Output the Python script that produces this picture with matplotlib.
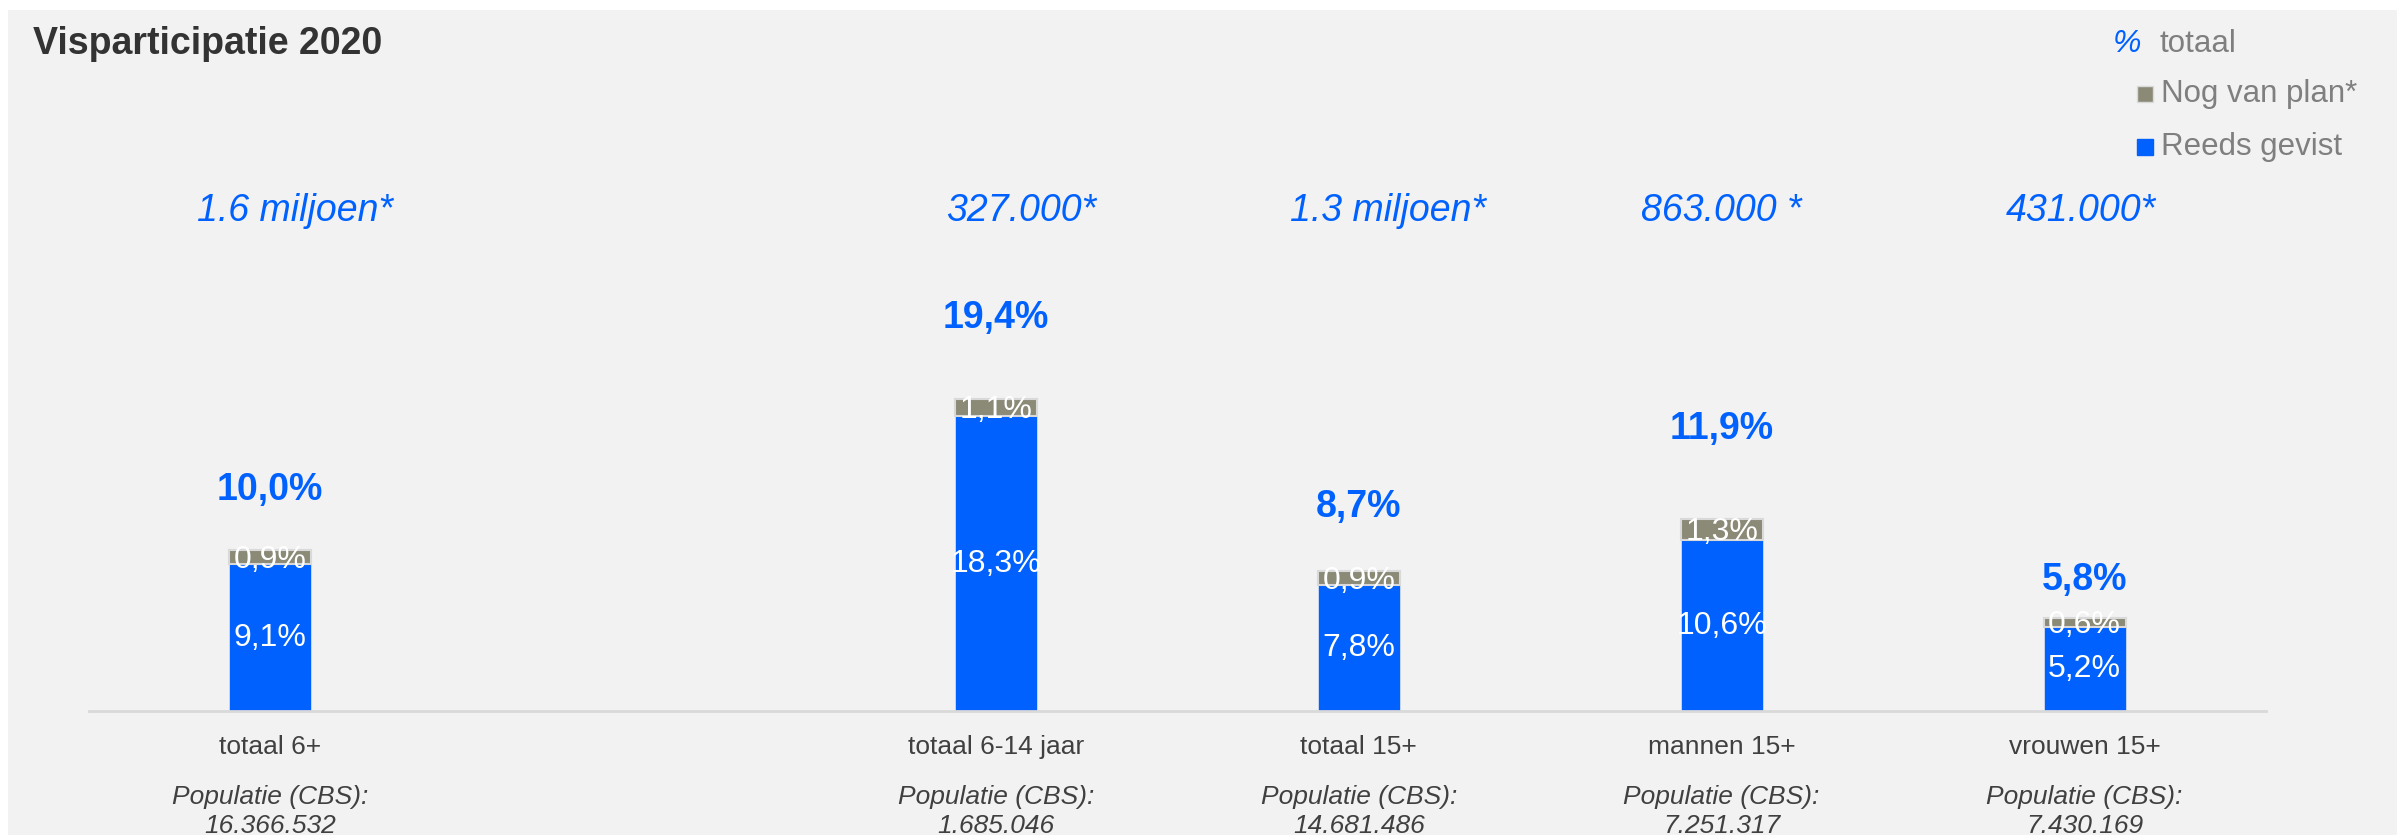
import matplotlib.pyplot as plt
from matplotlib.patches import Rectangle

plt.rcParams['font.family'] = ['Liberation Sans', 'DejaVu Sans']

# data
categories = ['totaal 6+', 'totaal 6-14 jaar', 'totaal 15+', 'mannen 15+', 'vrouwen 15+']
gevist = [9.1, 18.3, 7.8, 10.6, 5.2]
van_plan = [0.9, 1.1, 0.9, 1.3, 0.6]
totaal = [10.0, 19.4, 8.7, 11.9, 5.8]
schatting = ['1.6 miljoen*', '327.000*', '1.3 miljoen*', '863.000 *', '431.000*']
populatie = ['16.366.532', '1.685.046', '14.681.486', '7.251.317', '7.430.169']

def nl(v):
    return f'{v:.1f}'.replace('.', ',') + '%'

# layout (slot 1 stays empty)
slots = [0, 2, 3, 4, 5]
total_label_y = [13.7, 24.4, 12.7, 17.5, 8.15]
schatting_dx = [0.07, 0.07, 0.08, 0.0, -0.01]

blue = '#0061FE'
grey = '#8B8A77'

fig = plt.figure(figsize=(23.97, 8.35), dpi=100)
fig.patches.append(Rectangle((8 / 2397, 0), 1, 825 / 835, transform=fig.transFigure,
                             facecolor='#F2F2F2', edgecolor='none', zorder=-10))

ax = fig.add_axes([88.5 / 2397, 124 / 835, 2177.5 / 2397, 644 / 835])
ax.set_facecolor('none')
ax.set_xlim(-0.5, 5.5)
ax.set_ylim(0, 40)
for s in ['top', 'right', 'left']:
    ax.spines[s].set_visible(False)
ax.spines['bottom'].set_color('#D9D9D9')
ax.spines['bottom'].set_linewidth(2)
ax.set_xticks([])
ax.set_yticks([])

ax.bar(slots, gevist, width=0.226, color=blue, edgecolor='#D0DCF0', linewidth=0.6)
ax.bar(slots, van_plan, width=0.226, bottom=gevist, color=grey, edgecolor='#D9D9D9', linewidth=1.5)

trans = ax.get_xaxis_transform()
for i, x in enumerate(slots):
    ax.text(x, gevist[i] / 2, nl(gevist[i]), ha='center', va='center',
            fontsize=23, color='white')
    ax.text(x, gevist[i] + van_plan[i] / 2 - 0.15, nl(van_plan[i]), ha='center', va='center',
            fontsize=23, color='white')
    ax.text(x, total_label_y[i], nl(totaal[i]), ha='center', va='center',
            fontsize=27, fontweight='bold', color=blue)
    ax.text(x + schatting_dx[i], (711 - 211) / 644, schatting[i], ha='center', va='center',
            fontsize=27, style='italic', color=blue, transform=trans)
    ax.text(x, -36 / 644, categories[i], ha='center', va='center', fontsize=19,
            color='#404040', transform=trans)
    ax.text(x, -86 / 644, 'Populatie (CBS):', ha='center', va='center', fontsize=19,
            style='italic', color='#404040', transform=trans)
    ax.text(x, -115 / 644, populatie[i], ha='center', va='center', fontsize=19,
            style='italic', color='#404040', transform=trans)

# title
fig.text(33 / 2397, 1 - 44 / 835, 'Visparticipatie 2020', ha='left', va='center',
         fontsize=27, fontweight='bold', color='#333333')

# legend
fig.text(2113 / 2397, 1 - 44 / 835, '%', ha='left', va='center', fontsize=23,
         style='italic', color=blue)
fig.text(2160 / 2397, 1 - 44 / 835, 'totaal', ha='left', va='center', fontsize=22.5,
         color='#7F7F7F')
for yy, c, lab in [(94, grey, 'Nog van plan*'), (147, blue, 'Reeds gevist')]:
    fig.patches.append(Rectangle((2137 / 2397, 1 - (yy + 8) / 835), 16 / 2397, 16 / 835,
                                 transform=fig.transFigure, facecolor=c,
                                 edgecolor='#D9D9D9' if c == grey else c, linewidth=1))
    fig.text(2161 / 2397, 1 - yy / 835, lab, ha='left', va='center', fontsize=22.5,
             color='#7F7F7F')

fig.savefig('out.png', dpi=100)
